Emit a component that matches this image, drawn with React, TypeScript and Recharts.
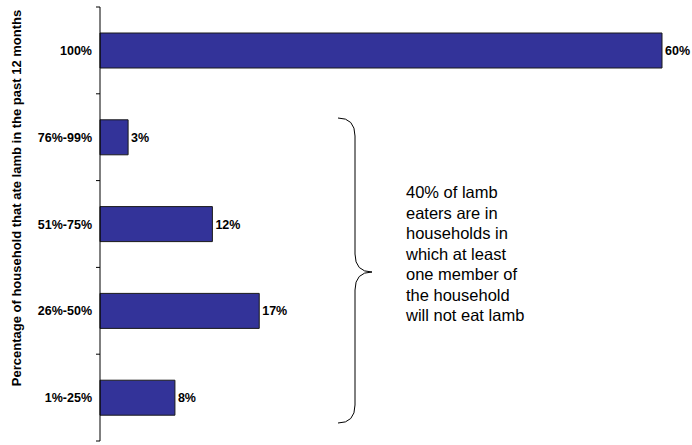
import React from 'react';
import { BarChart, Bar, XAxis, YAxis, LabelList } from 'recharts';

const categories = ['100%', '76%-99%', '51%-75%', '26%-50%', '1%-25%'];
const shares = [60, 3, 12, 17, 8];

const annotationLines = [
  '40% of lamb',
  'eaters are in',
  'households in',
  'which at least',
  'one member of',
  'the household',
  'will not eat lamb',
];

const yTitle = 'Percentage of household that ate lamb in the past 12 months';

const WIDTH = 692;
const HEIGHT = 445;
const MARGIN = { top: 7, right: 30, bottom: 4, left: 0 };
const BAND = (HEIGHT - MARGIN.top - MARGIN.bottom) / categories.length;
const FONT = '"Liberation Sans", Arial, sans-serif';

const data = categories.map((name, i) => ({ name, value: shares[i] }));

// category labels sit at band centres, tick marks at band edges
const CategoryTick = ({ x, y, payload, index }: any) => {
  const half = BAND / 2;
  return (
    <g>
      <text x={x - 8} y={y} dy={4.5} textAnchor="end" fontWeight="bold" fontSize={12.5} fill="#000" fontFamily={FONT}>
        {payload.value}
      </text>
      {index === 0 && <line x1={x - 4} x2={x} y1={y - half} y2={y - half} stroke="#000" />}
      <line x1={x - 4} x2={x} y1={y + half} y2={y + half} stroke="#000" />
    </g>
  );
};

const App = () => {
  return (
    <div style={{ position: 'absolute', left: 0, top: 0, width: WIDTH, height: HEIGHT, background: '#fff' }}>
      <BarChart width={WIDTH} height={HEIGHT} data={data} layout="vertical" margin={MARGIN} barSize={35}>
        <XAxis type="number" domain={[0, 60]} hide />
        <YAxis
          type="category"
          dataKey="name"
          width={100}
          axisLine={{ stroke: '#000' }}
          tickLine={false}
          tickSize={0}
          tickMargin={0}
          tick={<CategoryTick />}
          interval={0}
        />
        <Bar dataKey="value" fill="#333399" stroke="#1a1a1a" strokeWidth={1} isAnimationActive={false}>
          <LabelList
            dataKey="value"
            position="right"
            offset={3}
            formatter={(v: any) => `${v}%`}
            style={{ fontWeight: 'bold', fontSize: 12.5, fill: '#000', fontFamily: FONT }}
          />
        </Bar>
      </BarChart>
      <svg width={WIDTH} height={HEIGHT} style={{ position: 'absolute', left: 0, top: 0, pointerEvents: 'none' }}>
        <text
          transform="translate(21,198) rotate(-90)"
          textAnchor="middle"
          fontWeight="bold"
          fontSize={13}
          fontFamily={FONT}
          fill="#000"
        >
          {yTitle}
        </text>
        <path
          d="M 338 118 Q 355 118 355 136 L 355 254 Q 355 272 372 272 Q 355 272 355 290 L 355 405 Q 355 423 338 423"
          fill="none"
          stroke="#000"
          strokeWidth={1}
        />
        <text x={406} y={198} fontSize={16.5} fontFamily={FONT} fill="#000">
          {annotationLines.map((line, i) => (
            <tspan key={i} x={406} dy={i === 0 ? 0 : 20.5}>
              {line}
            </tspan>
          ))}
        </text>
      </svg>
    </div>
  );
};

export default App;
